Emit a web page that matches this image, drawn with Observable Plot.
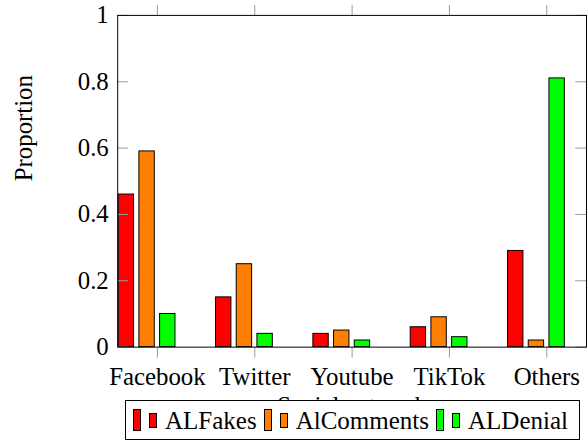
<!DOCTYPE html>
<html><head><meta charset="utf-8">
<script src="https://cdn.jsdelivr.net/npm/d3@7"></script>
<script src="https://cdn.jsdelivr.net/npm/@observablehq/plot@0.6"></script>
<style>
html,body{margin:0;padding:0;overflow:hidden;background:#fff;}
#wrap{position:relative;width:588px;height:443px;overflow:hidden;}
#legend{position:absolute;left:125px;top:400px;width:455px;height:40px;box-sizing:border-box;border:1px solid #000;background:#fff;display:flex;align-items:center;padding-left:7px;font-family:"Liberation Serif","DejaVu Serif",serif;font-size:25px;color:#000;}
.sw{display:inline-block;width:8px;box-sizing:border-box;border:1px solid #000;flex:none;}
.lt{white-space:nowrap;margin-right:7px;line-height:1;}
</style></head><body><div id="wrap"></div>
<script>
const categories = ["Facebook", "Twitter", "Youtube", "TikTok", "Others"];
const seriesNames = ["ALFakes", "AlComments", "ALDenial", ""];
const alFakes    = [0.46, 0.15, 0.04, 0.06, 0.29];
const alComments = [0.59, 0.25, 0.05, 0.09, 0.02];
const alDenial   = [0.10, 0.04, 0.02, 0.03, 0.81];
const extra      = [0, 0, 0, 0, 0];
const seriesColors = ["#ff0000", "#ff8000", "#00ff00", "#ffffff"];
const yTicks = [0, 0.2, 0.4, 0.6, 0.8, 1];
const xLabel = "Social network";
const yLabel = "Proportion";

const seriesValues = [alFakes, alComments, alDenial, extra];

const W = 592, H = 443, mL = 118, mR = 2, mT = 15, mB = 94;
const plotW = W - mL - mR;
const padInner = 0.208;
const step = plotW / (categories.length - padInner);
const bandW = step * (1 - padInner);
const barW = 15.5;
const barStep = (bandW - barW) / 3;
const tickLen = 11;
const font = "'Liberation Serif', 'DejaVu Serif', serif";
const fs = 25;

const barMarks = seriesValues.map((vals, j) => {
  const rows = categories.map((c, i) => ({category: c, value: vals[i], series: seriesNames[j]}));
  return Plot.barY(rows, {
    x: "category", y: "value",
    fill: seriesColors[j], stroke: "black", strokeWidth: 1,
    insetLeft: j * barStep, insetRight: bandW - j * barStep - barW
  });
});

const chart = Plot.plot({
  width: W, height: H,
  marginLeft: mL, marginRight: mR, marginTop: mT, marginBottom: mB,
  style: {fontFamily: font, fontSize: fs + "px", background: "white", color: "black"},
  x: {domain: categories, paddingInner: padInner, paddingOuter: 0, align: 0.5},
  y: {domain: [0, 1]},
  marks: [
    ...barMarks,
    Plot.ruleY(yTicks, {stroke: "#9a9a9a", insetRight: plotW - tickLen}),
    Plot.ruleY(yTicks, {stroke: "#9a9a9a", insetLeft: plotW - tickLen}),
    Plot.axisY({ticks: yTicks, tickSize: 0, tickPadding: 9, tickFormat: d => String(d), label: null, fontSize: fs, fontFamily: font, fill: "black"}),
    Plot.axisX({tickSize: tickLen, tickPadding: 9, label: null, fontSize: fs, fontFamily: font, stroke: "#9a9a9a", fill: "black"}),
    Plot.axisX({anchor: "top", tickSize: tickLen, tickFormat: () => "", label: null, stroke: "#9a9a9a"}),
    Plot.frame({stroke: "black", strokeWidth: 1}),
    Plot.text([yLabel], {frameAnchor: "left", dx: -94, rotate: -90, fontSize: fs, fontFamily: font, fill: "black"}),
    Plot.text([xLabel], {frameAnchor: "bottom", dy: 67, fontSize: fs, fontFamily: font, fill: "black"})
  ]
});
const wrap = document.getElementById("wrap");
wrap.appendChild(chart);

const legend = document.createElement("div");
legend.id = "legend";
for (let j = 0; j < 3; j++) {
  const a = document.createElement("span");
  a.className = "sw"; a.style.height = "22px"; a.style.background = seriesColors[j]; a.style.marginRight = "8px";
  const b = document.createElement("span");
  b.className = "sw"; b.style.height = "15px"; b.style.background = seriesColors[j]; b.style.marginRight = "8px";
  const t = document.createElement("span");
  t.className = "lt"; t.textContent = seriesNames[j];
  legend.append(a, b, t);
}
wrap.appendChild(legend);
</script></body></html>
